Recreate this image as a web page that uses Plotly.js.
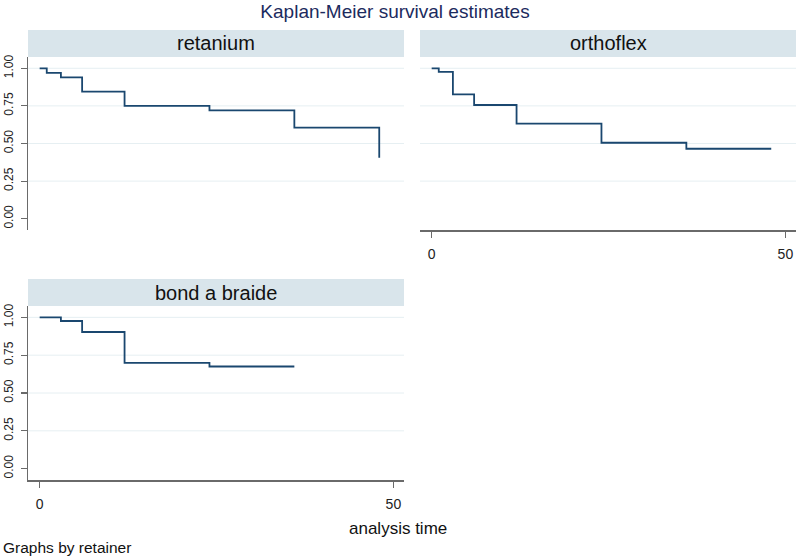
<!DOCTYPE html>
<html>
<head>
<meta charset="utf-8">
<script src="https://cdn.plot.ly/plotly-3.0.1.min.js"></script>
<style>html,body{margin:0;padding:0;background:#fff;}#chart{width:797px;height:556px;}</style>
</head>
<body>
<div id="chart"></div>
<script>
// ---- data ----
const groups = ["retanium", "orthoflex", "bond a braide"];

const retaniumTime = [0, 1, 3, 6, 12, 24, 36, 48];
const retaniumSurv = [1.0, 0.97, 0.94, 0.845, 0.75, 0.72, 0.605, 0.405];

const orthoflexTime = [0, 1, 3, 6, 12, 24, 36, 48];
const orthoflexSurv = [1.0, 0.976, 0.827, 0.756, 0.632, 0.505, 0.465, 0.465];

const bondTime = [0, 3, 6, 12, 24, 36];
const bondSurv = [1.0, 0.976, 0.903, 0.699, 0.675, 0.675];

const yTickVals = [0, 0.25, 0.5, 0.75, 1];
const yTickText = ["0.00", "0.25", "0.50", "0.75", "1.00"];
const xTickVals = [0, 50];
const xTickText = ["0", "50"];
const gridVals = [0.25, 0.5, 0.75, 1];

// ---- layout helpers ----
const W = 797, H = 556;
const fx = p => p / W;
const fy = p => 1 - p / H;

const lineColor = "#1a476f";
const axisColor = "#6a6a6a";
const gridColor = "#e6eff2";
const stripColor = "#d9e5eb";

const panels = [
  {x0: 28, x1: 404, y0: 57, y1: 230, sx: 28, ex: 404, st: 30, sb: 57},
  {x0: 420, x1: 796, y0: 57, y1: 230, sx: 420, ex: 796, st: 30, sb: 57},
  {x0: 28, x1: 404, y0: 306, y1: 480, sx: 28, ex: 404, st: 279, sb: 306}
];

const series = [
  [retaniumTime, retaniumSurv],
  [orthoflexTime, orthoflexSurv],
  [bondTime, bondSurv]
];

const traces = series.map((s, i) => ({
  x: s[0], y: s[1],
  xaxis: i === 0 ? "x" : "x" + (i + 1),
  yaxis: i === 0 ? "y" : "y" + (i + 1),
  type: "scatter", mode: "lines",
  line: {shape: "hv", color: lineColor, width: 1.8},
  hoverinfo: "skip", showlegend: false
}));

const layout = {
  width: W, height: H,
  margin: {l: 0, r: 0, t: 0, b: 0, pad: 0},
  paper_bgcolor: "#ffffff", plot_bgcolor: "#ffffff",
  font: {family: "Liberation Sans, Arial, sans-serif", color: "#222"},
  showlegend: false,
  title: {
    text: "Kaplan-Meier survival estimates",
    font: {size: 19, color: "#1c2b5e", family: "Liberation Sans, Arial, sans-serif"},
    x: 395 / W, xanchor: "center", xref: "paper",
    y: fy(11), yanchor: "middle", yref: "paper"
  },
  shapes: [], annotations: []
};

panels.forEach((p, i) => {
  const xk = i === 0 ? "xaxis" : "xaxis" + (i + 1);
  const yk = i === 0 ? "yaxis" : "yaxis" + (i + 1);
  const xref = i === 0 ? "x" : "x" + (i + 1);
  const yref = i === 0 ? "y" : "y" + (i + 1);
  const showX = (i === 1 || i === 2);
  const showY = (i === 0 || i === 2);
  layout[xk] = {
    domain: [fx(p.x0), fx(p.x1)],
    anchor: yref,
    range: [-1.65, 51.5],
    showgrid: false, zeroline: false,
    showline: showX, linecolor: axisColor, linewidth: 1.5,
    ticks: showX ? "outside" : "", ticklen: 6, tickwidth: 1.2, tickcolor: axisColor,
    showticklabels: showX,
    tickvals: xTickVals, ticktext: xTickText,
    tickfont: {size: 14, color: "#222"},
    ticklabelstandoff: 5,
    fixedrange: true
  };
  layout[yk] = {
    domain: [fy(p.y1), fy(p.y0)],
    anchor: xref,
    range: [-0.075, 1.075],
    showgrid: false, zeroline: false,
    showline: showY, linecolor: axisColor, linewidth: 1.5,
    ticks: showY ? "outside" : "", ticklen: 6, tickwidth: 1.2, tickcolor: axisColor,
    showticklabels: showY,
    tickvals: yTickVals, ticktext: yTickText,
    tickangle: -90,
    tickfont: {size: 12, color: "#222"},
    ticklabelstandoff: 3,
    fixedrange: true
  };
  // faint gridlines
  gridVals.forEach(g => {
    layout.shapes.push({
      type: "line", xref: xref + " domain", yref: yref,
      x0: 0, x1: 1, y0: g, y1: g,
      line: {color: gridColor, width: 1}, layer: "below"
    });
  });
  // strip header
  layout.shapes.push({
    type: "rect", xref: "paper", yref: "paper",
    x0: fx(p.sx), x1: fx(p.ex), y0: fy(p.sb), y1: fy(p.st),
    fillcolor: stripColor, line: {width: 0}, layer: "below"
  });
  layout.annotations.push({
    text: groups[i], xref: "paper", yref: "paper",
    x: fx((p.sx + p.ex) / 2), y: fy((p.st + p.sb) / 2),
    xanchor: "center", yanchor: "middle", showarrow: false,
    font: {size: 20, color: "#111"}
  });
});

layout.annotations.push({
  text: "analysis time", xref: "paper", yref: "paper",
  x: fx(398), y: fy(528), xanchor: "center", yanchor: "middle",
  showarrow: false, font: {size: 17, color: "#111"}
});
layout.annotations.push({
  text: "Graphs by retainer", xref: "paper", yref: "paper",
  x: fx(1), y: fy(547), xanchor: "left", yanchor: "middle",
  showarrow: false, font: {size: 15.5, color: "#111"}
});

Plotly.newPlot("chart", traces, layout, {staticPlot: true, displayModeBar: false});
</script>
</body>
</html>
